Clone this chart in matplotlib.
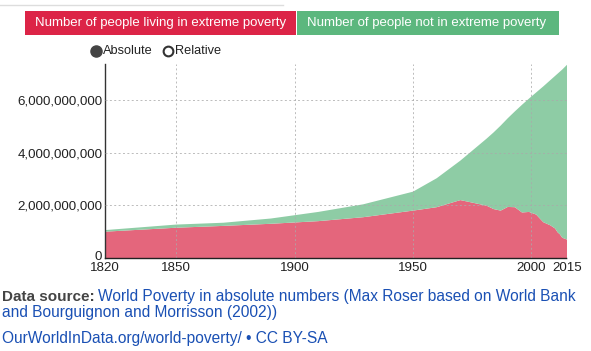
import matplotlib.pyplot as plt
import matplotlib.ticker as mticker
import matplotlib.transforms as mtransforms
from matplotlib.patches import Rectangle

plt.rcParams['font.family'] = ['Liberation Sans', 'DejaVu Sans']

# data (people)
years = [1820, 1850, 1870, 1890, 1910, 1929, 1950, 1960, 1970, 1981, 1984, 1987,
         1990, 1993, 1996, 1999, 2002, 2005, 2008, 2010, 2011, 2012, 2013, 2015]
total = [1.06e9, 1.27e9, 1.34e9, 1.50e9, 1.75e9, 2.04e9, 2.52e9, 3.03e9, 3.70e9,
         4.53e9, 4.77e9, 5.03e9, 5.31e9, 5.57e9, 5.82e9, 6.06e9, 6.29e9, 6.52e9,
         6.76e9, 6.92e9, 7.00e9, 7.08e9, 7.16e9, 7.34e9]
poverty = [1.00e9, 1.15e9, 1.22e9, 1.30e9, 1.40e9, 1.55e9, 1.80e9, 1.93e9, 2.20e9,
           1.99e9, 1.86e9, 1.80e9, 1.94e9, 1.93e9, 1.73e9, 1.75e9, 1.65e9, 1.36e9,
           1.24e9, 1.12e9, 0.98e9, 0.90e9, 0.77e9, 0.70e9]
not_poverty = [t - p for t, p in zip(total, poverty)]

xticks = [1820, 1850, 1900, 1950, 2000, 2015]
yticks = [0, 2e9, 4e9, 6e9]

red = '#e4667c'
green = '#8ecca5'

fig = plt.figure(figsize=(5.91, 3.51), dpi=100)
ax = fig.add_axes([105/591, 1 - 258/351, 462/591, 194/351])

ax.stackplot(years, poverty, not_poverty, colors=[red, green], linewidth=0)
ax.set_xlim(1820, 2015)
ax.set_ylim(0, 7.37e9)
ax.set_xticks(xticks)
ax.set_yticks(yticks)
ax.yaxis.set_major_formatter(mticker.FuncFormatter(lambda v, p: '{:,.0f}'.format(v)))
ax.tick_params(length=0, labelsize=9.6, colors='#222222')
ax.tick_params(axis='x', pad=3)
ax.tick_params(axis='y', pad=2)
# nudge the "0" up a touch so it clears the 1820 label
zero = ax.yaxis.get_major_ticks()[0].label1
zero.set_transform(zero.get_transform() +
                   mtransforms.ScaledTranslation(0, 1.5/72, fig.dpi_scale_trans))

for y in yticks[1:]:
    ax.axhline(y, color='#aaaaaa', lw=0.7, ls=(0, (2, 2.5)), alpha=0.8, zorder=3)
for x in [1850, 1900, 1950, 2000]:
    ax.axvline(x, color='#aaaaaa', lw=0.7, ls=(0, (2, 2.5)), alpha=0.8, zorder=3)

for s in ['top', 'right']:
    ax.spines[s].set_visible(False)
ax.spines['left'].set_color('#333333')
ax.spines['left'].set_linewidth(1)
ax.spines['bottom'].set_color('#222222')
ax.spines['bottom'].set_linestyle((0, (2, 1)))
ax.spines['bottom'].set_linewidth(1)
ax.spines['bottom'].set_zorder(4)

# header tab line
fig.add_artist(plt.Line2D([0, 283/591], [1 - 5/351, 1 - 5/351], color='#dddddd', lw=1))

# legend buttons
fig.add_artist(Rectangle((25/591, 1 - 35/351), 271/591, 24/351, color='#dc2447', lw=0))
fig.add_artist(Rectangle((297/591, 1 - 35/351), 262/591, 24/351, color='#5cb77e', lw=0))
fig.text(35/591, 1 - 23/351, 'Number of people living in extreme poverty', color='white',
         fontsize=9.5, va='center', ha='left')
fig.text(307/591, 1 - 23/351, 'Number of people not in extreme poverty', color='white',
         fontsize=9.5, va='center', ha='left')

# radio buttons
fig.add_artist(plt.Line2D([96/591], [1 - 51/351], marker='o', ms=8, color='#444444',
                          mec='#444444'))
fig.text(103/591, 1 - 51/351, 'Absolute', fontsize=9.2, va='center', color='#222222')
fig.add_artist(plt.Line2D([167.5/591], [1 - 51/351], marker='o', ms=7, mfc='white',
                          mec='#333333', mew=1.5))
fig.text(175/591, 1 - 51/351, 'Relative', fontsize=9.2, va='center', color='#222222')

# footer
fig.text(2/591, 1 - 297/351, 'Data source:', fontsize=11, fontweight='bold',
         color='#444444', va='center')
fig.text(98/591, 1 - 297/351,
         'World Poverty in absolute numbers (Max Roser based on World Bank',
         fontsize=11.2, color='#1a50b4', va='center')
fig.text(2/591, 1 - 313/351, 'and Bourguignon and Morrisson (2002))',
         fontsize=11.2, color='#1a50b4', va='center')
fig.text(2/591, 1 - 339/351, 'OurWorldInData.org/world-poverty/ \u2022 CC BY-SA',
         fontsize=11.2, color='#1a50b4', va='center')

fig.savefig('out.png', dpi=100)
